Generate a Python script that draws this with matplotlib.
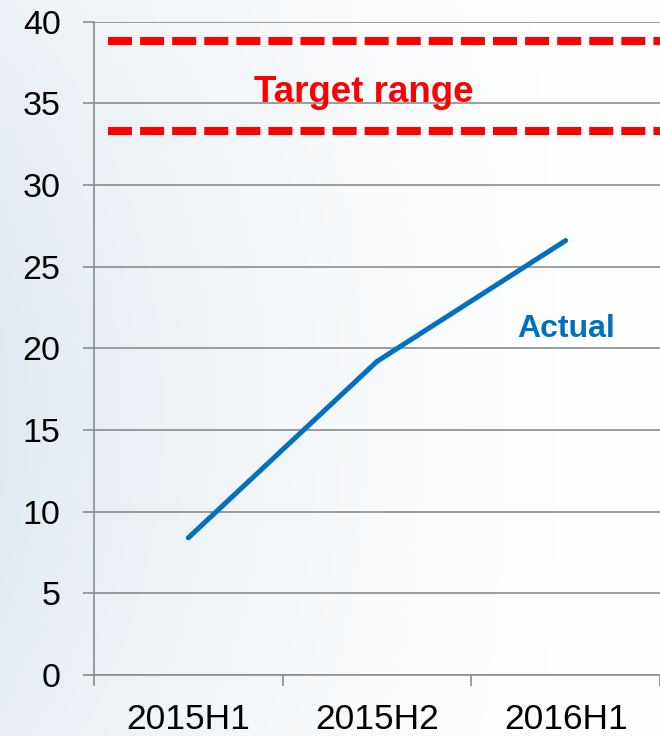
import numpy as np
import matplotlib
matplotlib.use("Agg")
import matplotlib.pyplot as plt
from matplotlib.colors import to_rgb

plt.rcParams['font.family'] = ['Liberation Sans', 'DejaVu Sans']
plt.rcParams['lines.scale_dashes'] = False

categories = ["2015H1", "2015H2", "2016H1"]
actual = [8.4, 19.2, 26.6]
target_low = 33.3
target_high = 38.8
yticks = [0, 5, 10, 15, 20, 25, 30, 35, 40]

fig = plt.figure(figsize=(6.6, 7.36), dpi=100)

# background gradient
bg = fig.add_axes([0, 0, 1, 1], zorder=-10)
h, w = 200, 180
yy, xx = np.mgrid[0:1:h*1j, 0:1:w*1j]
t = np.clip(0.85 * (1 - xx) ** 1.6 * (0.35 + 0.65 * np.sin(np.pi * (0.2 + 0.8 * yy) / 1.3)), 0, 1)
c0 = np.array(to_rgb("#ffffff"))
c1 = np.array(to_rgb("#dde7ef"))
img = c0[None, None, :] * (1 - t[..., None]) + c1[None, None, :] * t[..., None]
bg.imshow(img, aspect='auto', origin='upper', extent=[0, 1, 0, 1], interpolation='bilinear')
bg.set_axis_off()

ax = fig.add_axes([94/660, 61/736, 1 - 94/660, (675 - 21.7)/736])
ax.patch.set_alpha(0)

x = np.arange(len(categories))
ax.set_xlim(-0.5, len(categories) - 0.5)
ax.set_ylim(0, 40)

ax.set_yticks(yticks)
ax.set_yticklabels([str(v) for v in yticks], fontsize=24.5)
ax.yaxis.grid(True, color='#8c8c8c', linewidth=1.2)
ax.set_axisbelow(True)

ax.set_xticks(np.arange(-0.5, len(categories) + 0.5, 1))
ax.set_xticklabels([])
ax.set_xticks(x, minor=True)
ax.set_xticklabels(categories, minor=True, fontsize=25.5)
ax.tick_params(axis='x', which='minor', length=0, pad=20)
ax.tick_params(axis='x', which='major', length=8, width=1.2, color='#8c8c8c', direction='out')
ax.tick_params(axis='y', length=8, width=1.2, color='#8c8c8c', pad=16)

for s in ['top', 'right']:
    ax.spines[s].set_visible(False)
for s in ['left', 'bottom']:
    ax.spines[s].set_color('#8c8c8c')
    ax.spines[s].set_linewidth(1.2)

for v in [target_high, target_low]:
    ax.axhline(v, xmin=14/566, xmax=1, color='#ff0000', linewidth=5.8,
               dashes=(17.3, 5.8), solid_capstyle='butt', dash_capstyle='butt', zorder=3)

ax.plot(x, actual, color='#0070c0', linewidth=3.6, solid_capstyle='round', zorder=4)

ax.text(0.93, 35.1, "Target range", color='#ff0000', fontsize=26.5, fontweight='bold',
        ha='center', va='baseline')
ax.text(2.0, 20.72, "Actual", color='#0070c0', fontsize=23, fontweight='bold',
        ha='center', va='baseline')

fig.savefig("out.png", dpi=100)
